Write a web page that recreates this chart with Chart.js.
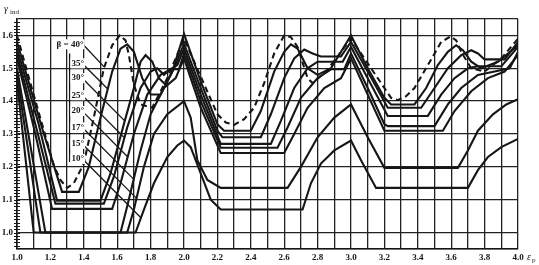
<!DOCTYPE html>
<html><head><meta charset="utf-8">
<script src="https://cdn.jsdelivr.net/npm/chart.js@4/dist/chart.umd.min.js"></script>
<style>html,body{margin:0;padding:0;background:#fff;}#wrap{width:539px;height:265px;}</style>
</head><body><div id="wrap"><canvas id="c" width="539" height="265"></canvas></div>
<script>
// ---- tick labels ----
const xTickValues = [1.0,1.1,1.2,1.3,1.4,1.5,1.6,1.7,1.8,1.9,2.0,2.1,2.2,2.3,2.4,2.5,2.6,2.7,2.8,2.9,3.0,3.1,3.2,3.3,3.4,3.5,3.6,3.7,3.8,3.9,4.0];
const xTickLabels = ['1.0','1.2','1.4','1.6','1.8','2.0','2.2','2.4','2.6','2.8','3.0','3.2','3.4','3.6','3.8','4.0'];
const yTickValues = [0.95,1.0,1.1,1.2,1.3,1.4,1.5,1.6,1.65];
const yTickLabels = ['1.0','1.1','1.2','1.3','1.4','1.5','1.6'];

// ---- series: [eps_p, gamma_ind] ----
const beta40 = [[1.0,1.60],[1.08,1.455],[1.15,1.33],[1.22,1.205],[1.26,1.16],[1.30,1.136],[1.34,1.15],[1.40,1.21],[1.46,1.35],[1.52,1.50],[1.57,1.57],[1.615,1.60],[1.65,1.585],[1.67,1.54],[1.70,1.45],[1.74,1.39],[1.81,1.38],[1.90,1.47],[2.0,1.59],
  [2.1,1.475],[2.2,1.36],[2.25,1.335],[2.3,1.328],[2.36,1.345],[2.42,1.38],[2.48,1.455],[2.54,1.545],[2.6,1.60],[2.64,1.595],[2.68,1.565],[2.74,1.47],[2.77,1.455],[2.85,1.49],[3.0,1.59],
  [3.1,1.515],[3.24,1.41],[3.28,1.403],[3.33,1.415],[3.38,1.44],[3.48,1.527],[3.54,1.58],[3.596,1.597],[3.63,1.585],[3.66,1.55],[3.72,1.50],[3.8,1.49],[3.9,1.53],[4.0,1.59]];
const beta35 = [[1.0,1.58],[1.155,1.31],[1.27,1.124],[1.37,1.124],[1.43,1.2],[1.50,1.35],[1.57,1.49],[1.62,1.56],[1.66,1.573],[1.70,1.55],[1.75,1.47],[1.80,1.42],[1.86,1.42],[1.93,1.49],[2.0,1.605],
  [2.1,1.46],[2.2,1.33],[2.24,1.31],[2.40,1.31],[2.46,1.37],[2.54,1.49],[2.60,1.55],[2.64,1.573],[2.68,1.56],[2.74,1.50],[2.8,1.48],[2.88,1.5],[3.0,1.60],
  [3.1,1.50],[3.2,1.41],[3.24,1.39],[3.38,1.39],[3.45,1.44],[3.52,1.51],[3.58,1.55],[3.63,1.57],[3.67,1.555],[3.72,1.52],[3.78,1.50],[3.88,1.52],[4.0,1.57]];
const beta30 = [[1.0,1.56],[1.13,1.33],[1.24,1.097],[1.50,1.097],[1.56,1.18],[1.64,1.33],[1.70,1.44],[1.74,1.52],[1.77,1.54],[1.81,1.52],[1.85,1.47],[1.89,1.45],[1.94,1.50],[2.0,1.575],
  [2.1,1.44],[2.2,1.31],[2.23,1.29],[2.46,1.29],[2.52,1.36],[2.60,1.47],[2.66,1.53],[2.72,1.557],[2.77,1.545],[2.82,1.536],[2.94,1.536],[3.0,1.58],
  [3.1,1.49],[3.22,1.38],[3.42,1.38],[3.5,1.44],[3.58,1.50],[3.66,1.54],[3.72,1.555],[3.76,1.545],[3.8,1.527],[3.92,1.527],[4.0,1.58]];
const beta25 = [[1.0,1.545],[1.12,1.31],[1.23,1.088],[1.52,1.088],[1.58,1.17],[1.66,1.32],[1.74,1.44],[1.80,1.49],[1.84,1.50],[1.88,1.48],[1.92,1.497],[1.96,1.51],[2.0,1.56],
  [2.1,1.42],[2.22,1.27],[2.52,1.27],[2.58,1.34],[2.66,1.44],[2.74,1.50],[2.80,1.52],[2.95,1.52],[3.0,1.565],
  [3.1,1.47],[3.22,1.355],[3.46,1.355],[3.54,1.42],[3.62,1.47],[3.7,1.5],[3.76,1.506],[3.9,1.506],[4.0,1.565]];
const beta20 = [[1.0,1.53],[1.11,1.30],[1.21,1.072],[1.57,1.072],[1.62,1.15],[1.70,1.30],[1.78,1.42],[1.86,1.48],[1.92,1.497],[1.97,1.497],[2.0,1.545],
  [2.1,1.40],[2.22,1.258],[2.56,1.258],[2.62,1.32],[2.70,1.41],[2.80,1.47],[2.88,1.497],[2.96,1.497],[3.0,1.545],
  [3.1,1.44],[3.2,1.33],[3.22,1.324],[3.5,1.324],[3.58,1.39],[3.66,1.44],[3.76,1.48],[3.86,1.49],[3.95,1.5],[4.0,1.55]];
const beta17 = [[1.0,1.50],[1.17,1.0],[1.62,1.0],[1.66,1.08],[1.74,1.25],[1.80,1.36],[1.88,1.44],[1.95,1.47],[2.0,1.53],
  [2.1,1.38],[2.22,1.242],[2.60,1.242],[2.66,1.30],[2.74,1.38],[2.84,1.44],[2.94,1.47],[3.0,1.53],
  [3.1,1.42],[3.2,1.31],[3.55,1.31],[3.62,1.37],[3.72,1.43],[3.82,1.47],[3.92,1.49],[4.0,1.54]];
const beta15 = [[1.0,1.48],[1.14,1.0],[1.66,1.0],[1.70,1.07],[1.76,1.2],[1.82,1.30],[1.90,1.36],[2.0,1.40],
  [2.04,1.35],[2.08,1.22],[2.14,1.16],[2.22,1.136],[2.62,1.136],[2.7,1.20],[2.8,1.29],[2.9,1.35],[3.0,1.39],
  [3.1,1.29],[3.2,1.197],[3.64,1.197],[3.70,1.25],[3.76,1.31],[3.85,1.36],[3.93,1.39],[4.0,1.406]];
const beta10 = [[1.0,1.46],[1.10,1.0],[1.71,1.0],[1.76,1.07],[1.82,1.15],[1.90,1.23],[1.96,1.265],[2.0,1.28],
  [2.04,1.26],[2.1,1.18],[2.16,1.10],[2.22,1.07],[2.71,1.07],[2.76,1.15],[2.82,1.21],[2.9,1.25],[3.0,1.28],
  [3.06,1.22],[3.15,1.136],[3.70,1.136],[3.76,1.19],[3.82,1.23],[3.9,1.26],[4.0,1.285]];

// ---- curve labels and their leader lines ----
const betaLabels = ['β = 40°','35°','30°','25°','20°','17°','15°','10°'];
const labelX = [1.237,1.326,1.326,1.326,1.326,1.326,1.326,1.326];
const labelY = [1.573,1.515,1.47,1.418,1.37,1.32,1.27,1.224];
const leaderStart = [[1.40,1.57],[1.40,1.51],[1.40,1.465],[1.40,1.413],[1.40,1.365],[1.40,1.315],[1.40,1.265],[1.40,1.22]];
const leaderEnd = [[1.52,1.505],[1.545,1.436],[1.645,1.34],[1.64,1.29],[1.662,1.231],[1.70,1.162],[1.716,1.104],[1.742,1.045]];
const bracket = [[1.315,1.545],[1.315,1.215]];

const toXY = a => a.map(p => ({x:p[0], y:p[1]}));
const INK = '#161616';
const curves = [beta40,beta35,beta30,beta25,beta20,beta17,beta15,beta10];
const datasets = curves.map((c,i) => ({
  data: toXY(c), borderColor: INK, borderWidth: 2.1, borderDash: i===0 ? [6,4] : [],
  pointRadius: 0, tension: 0, fill: false
}));
leaderStart.forEach((s,i) => datasets.push({data: toXY([s, leaderEnd[i]]), borderColor: INK, borderWidth: 1.3, pointRadius: 0, tension: 0}));
datasets.push({data: toXY(bracket), borderColor: INK, borderWidth: 1.3, pointRadius: 0});

const FONT = "'Liberation Serif', 'DejaVu Serif', serif";
const deco = {
  id: 'deco',
  afterDatasetsDraw(chart) {
    const {ctx, scales:{x, y}} = chart;
    ctx.save();
    ctx.fillStyle = INK; ctx.strokeStyle = INK;
    // minor ticks on the left axis
    ctx.lineWidth = 1;
    for (let k = 96; k <= 164; k++) {
      const py = Math.round(y.getPixelForValue(k/100)) + 0.5;
      ctx.beginPath(); ctx.moveTo(x.left - 3, py); ctx.lineTo(x.left + 3, py); ctx.stroke();
    }
    // curve labels
    ctx.font = "bold 9px " + FONT; ctx.textBaseline = 'middle'; ctx.textAlign = 'left';
    betaLabels.forEach((t,i) => {
      const px = x.getPixelForValue(labelX[i]), py = y.getPixelForValue(labelY[i]);
      const w = ctx.measureText(t).width;
      ctx.fillStyle = '#fff'; ctx.fillRect(px-1, py-5, w+2, 10);
      ctx.fillStyle = INK; ctx.fillText(t, px, py);
    });
    // axis titles
    ctx.font = "italic 10px " + FONT; ctx.textBaseline = 'alphabetic';
    ctx.fillText('γ', 4, 12);
    ctx.font = "7px " + FONT; ctx.fillText('ind', 10, 14);
    ctx.font = "italic 10px " + FONT; ctx.fillText('ε', 527, 260);
    ctx.font = "7px " + FONT; ctx.fillText('p', 532, 262);
    ctx.restore();
  }
};

new Chart(document.getElementById('c'), {
  type: 'line',
  data: { datasets },
  options: {
    responsive: false, animation: false,
    layout: { padding: { left: 0, top: 19, right: 21, bottom: 0 } },
    plugins: { legend: { display: false }, tooltip: { enabled: false } },
    scales: {
      x: {
        type: 'linear', min: 1.0, max: 4.0,
        afterBuildTicks: s => { s.ticks = xTickValues.map(v => ({value: v})); },
        afterFit: s => { s.height = 16; },
        ticks: { autoSkip: false, maxRotation: 0, padding: 3, color: INK,
          font: { family: FONT, size: 9, weight: 'bold' },
          callback: v => { const t = v.toFixed(1); return xTickLabels.includes(t) ? t : ''; } },
        grid: { color: '#222', lineWidth: 1.3, drawTicks: false },
        border: { color: INK, width: 1.6 }
      },
      y: {
        type: 'linear', min: 0.95, max: 1.65,
        afterBuildTicks: s => { s.ticks = yTickValues.map(v => ({value: v})); },
        afterFit: s => { s.width = 17; },
        ticks: { autoSkip: false, padding: 4, color: INK,
          font: { family: FONT, size: 9, weight: 'bold' },
          callback: v => { const t = v.toFixed(1); return (yTickLabels.includes(t) && Math.abs(v - parseFloat(t)) < 1e-6) ? t : ''; } },
        grid: { color: '#222', lineWidth: 1.3, drawTicks: false },
        border: { color: INK, width: 1.6 }
      }
    }
  },
  plugins: [deco]
});
</script></body></html>
